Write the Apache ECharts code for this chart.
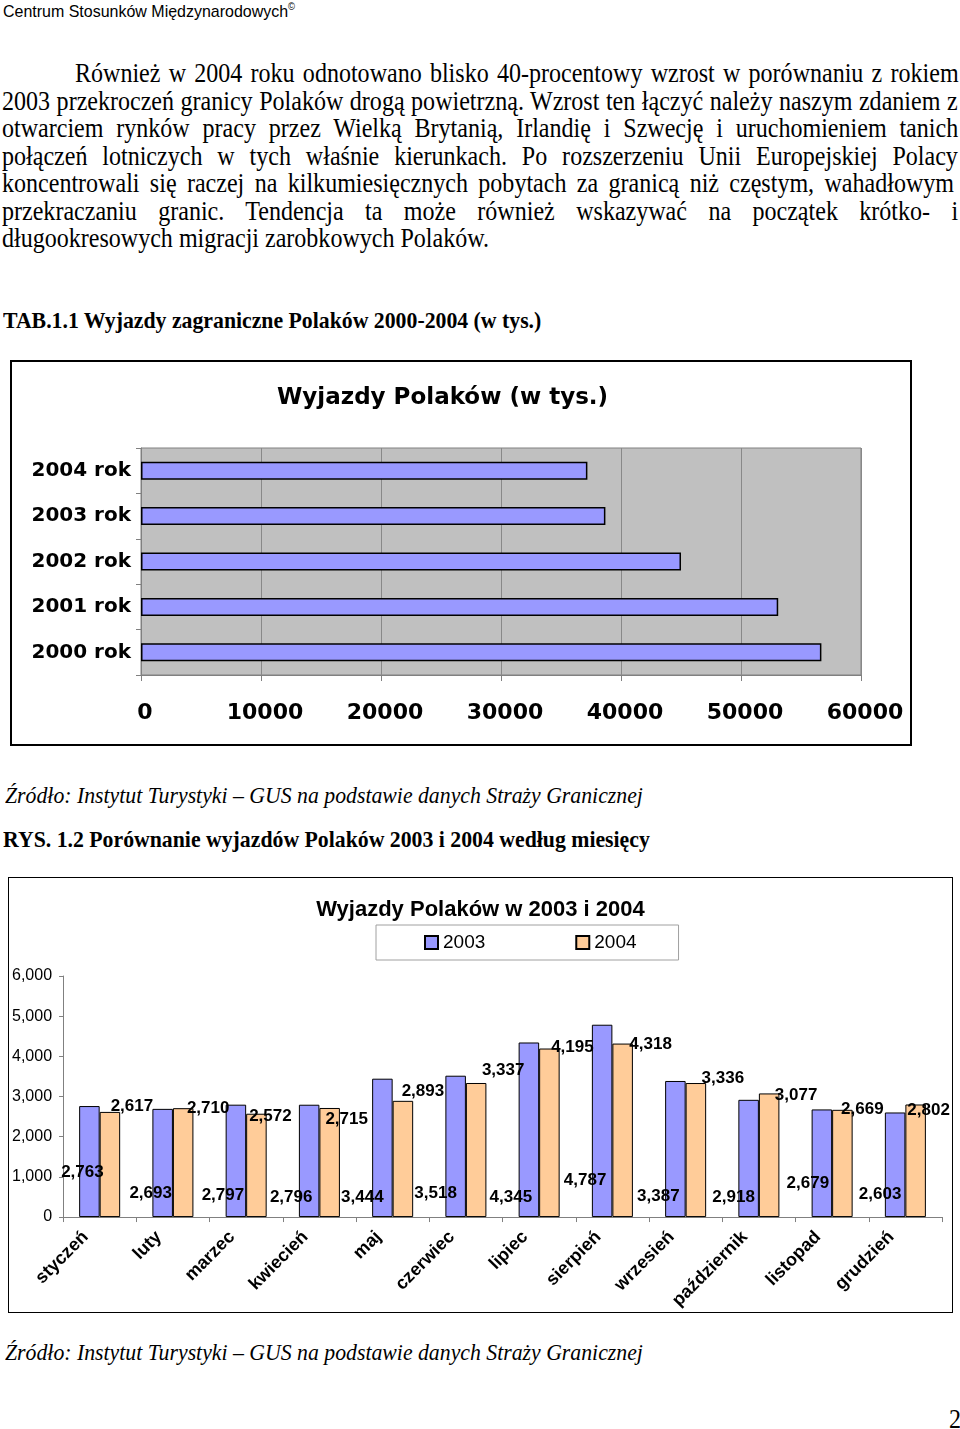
<!DOCTYPE html>
<html>
<head>
<meta charset="utf-8">
<script src="https://cdn.jsdelivr.net/npm/echarts@6/dist/echarts.min.js"></script>
<style>
  html, body { margin: 0; padding: 0; background: #fff; }
  #page { position: relative; width: 960px; height: 1429px; overflow: hidden; color: #000; }
  .abs { position: absolute; white-space: nowrap; }
  .hdr { font-family: 'Liberation Sans', Arial, sans-serif; font-size: 17px; left: 3px; top: 1px;
         transform: scaleX(0.94); transform-origin: 0 0; }
  .hdr sup { font-size: 10px; }
  /* the scanned page is a bit narrow: Times looks condensed */
  .serif { font-family: 'Liberation Serif', 'Times New Roman', serif; font-size: 26.5px; line-height: 27.5px;
           transform: scaleX(0.907); transform-origin: 0 0; }
  .small { font-size: 24px; line-height: 28px; }
  .jl { position: absolute; left: 2px; width: 1054px; }
  .bold { font-weight: bold; }
  .ital { font-style: italic; }
  .box1 { position: absolute; left: 10px; top: 360px; width: 902px; height: 386px; border: 2px solid #000; box-sizing: border-box; }
  .box2 { position: absolute; left: 8px; top: 877px; width: 945px; height: 436px; border: 1px solid #000; box-sizing: border-box; }
  .box1 > div, .box2 > div { width: 100%; height: 100%; }
</style>
</head>
<body>
<div id="page">
  <div class="abs hdr">Centrum Stosunków Międzynarodowych<sup>©</sup></div>

  <div class="serif jl just" style="top:60px; left:75px; width:973.5px;">Również w 2004 roku odnotowano blisko 40-procentowy wzrost w porównaniu z rokiem</div>
  <div class="serif jl just" style="top:87.5px;">2003 przekroczeń granicy Polaków drogą powietrzną. Wzrost ten łączyć należy naszym zdaniem z</div>
  <div class="serif jl just" style="top:115px;">otwarciem rynków pracy przez Wielką Brytanią, Irlandię i Szwecję i uruchomieniem tanich</div>
  <div class="serif jl just" style="top:142.5px;">połączeń lotniczych w tych właśnie kierunkach. Po rozszerzeniu Unii Europejskiej Polacy</div>
  <div class="serif jl just" style="top:170px;">koncentrowali się raczej na kilkumiesięcznych pobytach za granicą  niż częstym, wahadłowym</div>
  <div class="serif jl just" style="top:197.5px;">przekraczaniu granic. Tendencja ta może również wskazywać na początek krótko- i</div>
  <div class="serif jl" style="top:225px; white-space:nowrap;">długookresowych migracji zarobkowych Polaków.</div>

  <div class="abs serif small bold" style="left:3px; top:306px;">TAB.1.1 Wyjazdy zagraniczne Polaków 2000-2004 (w tys.)</div>

  <div class="box1"><div id="chart1"></div></div>

  <div class="abs serif small ital" style="left:5px; top:781px;">Źródło: Instytut Turystyki – GUS na podstawie danych Straży Granicznej</div>
  <div class="abs serif small bold" style="left:3px; top:825px;">RYS. 1.2 Porównanie wyjazdów Polaków 2003 i 2004 według miesięcy</div>

  <div class="box2"><div id="chart2"></div></div>

  <div class="abs serif small ital" style="left:5px; top:1338px;">Źródło: Instytut Turystyki – GUS na podstawie danych Straży Granicznej</div>
  <div class="abs serif" style="left:949px; top:1406px;">2</div>
</div>

<script>
// TAB 1.1 - departures per year (thousands)
const years = ['2000 rok', '2001 rok', '2002 rok', '2003 rok', '2004 rok'];
const departures = [56700, 53100, 45000, 38700, 37200];

// RYS 1.2 - monthly departures (thousands)
const months = ['styczeń', 'luty', 'marzec', 'kwiecień', 'maj', 'czerwiec',
  'lipiec', 'sierpień', 'wrzesień', 'październik', 'listopad', 'grudzień'];
const dep2003 = [2763, 2693, 2797, 2796, 3444, 3518, 4345, 4787, 3387, 2918, 2679, 2603];
const dep2004 = [2617, 2710, 2572, 2715, 2893, 3337, 4195, 4318, 3336, 3077, 2669, 2802];

// justify text lines by hand (word-spacing) so the breaks match the page
document.querySelectorAll('.just').forEach(function (el) {
  const txt = el.textContent;
  el.textContent = '';
  const span = document.createElement('span');
  span.style.whiteSpace = 'nowrap';
  span.textContent = txt;
  el.appendChild(span);
  const gaps = (txt.match(/ /g) || []).length;
  const extra = (el.clientWidth - span.offsetWidth) / gaps;
  span.style.wordSpacing = extra + 'px';
});

const fmt = v => v.toLocaleString('en-US');

// ---------- chart 1 ----------
const chart1 = echarts.init(document.getElementById('chart1'));
chart1.setOption({
  animation: false,
  title: {
    text: 'Wyjazdy Polaków (w tys.)',
    left: 260,
    top: 20,
    textStyle: { fontFamily: 'DejaVu Sans', fontWeight: 'bold', fontSize: 23, color: '#000' }
  },
  grid: {
    left: 129, right: 49, top: 86, bottom: 69,
    show: true, backgroundColor: '#c0c0c0', borderColor: '#808080', borderWidth: 1
  },
  xAxis: {
    type: 'value',
    min: 0, max: 60000, interval: 10000,
    axisLine: { show: true, lineStyle: { color: '#808080' } },
    axisTick: { show: true, length: 6, lineStyle: { color: '#808080' } },
    splitLine: { show: true, lineStyle: { color: '#888888', width: 1 } },
    axisLabel: {
      margin: 27, formatter: v => String(v), padding: [0, 0, 0, 8],
      fontFamily: 'DejaVu Sans', fontWeight: 'bold', fontSize: 22, color: '#000'
    }
  },
  yAxis: {
    type: 'category',
    data: years,
    axisLine: { show: true, lineStyle: { color: '#808080' } },
    axisTick: { show: true, length: 5, lineStyle: { color: '#808080' } },
    axisLabel: { margin: 10, fontFamily: 'DejaVu Sans', fontWeight: 'bold', fontSize: 20, color: '#000' }
  },
  series: [{
    type: 'bar',
    data: departures,
    barWidth: 18,
    itemStyle: { color: '#9999ff', borderColor: '#000', borderWidth: 1.5 }
  }]
});

// ---------- chart 2 ----------
// label offsets [dx, dy] as they sit in the original (Excel placed them oddly)
const nudge2003 = [[-7, -31], [-12, -10], [-13, -8], [-18, -6], [-20, -6], [-20, -10],
  [-18, -6], [-17, -23], [-17, -7], [-15, -6], [-14, -20], [-15, -9]];
const nudge2004 = [[22, 3], [25, 9], [14, 11], [17, 20], [20, -1], [27, -4],
  [23, 7], [28, 9], [27, 4], [27, 10], [20, 8], [13, 14]];

const labelFont = { fontFamily: 'Liberation Sans', fontWeight: 'bold', fontSize: 17, color: '#000' };

const chart2 = echarts.init(document.getElementById('chart2'));
chart2.setOption({
  animation: false,
  title: {
    text: 'Wyjazdy Polaków w 2003 i 2004',
    left: 'center',
    top: 16,
    textStyle: { fontFamily: 'Liberation Sans', fontWeight: 'bold', fontSize: 22, color: '#000' }
  },
  legend: {
    left: 367, top: 47,
    padding: [8, 42, 8, 48],
    itemGap: 90,
    itemWidth: 13, itemHeight: 13,
    icon: 'rect',
    borderColor: '#a0a0a0', borderWidth: 1,
    textStyle: { fontFamily: 'Liberation Sans', fontSize: 19, color: '#000' }
  },
  grid: { left: 52, right: 10, top: 98, bottom: 94 },
  xAxis: {
    type: 'category',
    data: months,
    axisLine: { lineStyle: { color: '#808080' } },
    axisTick: { show: true, length: 5, lineStyle: { color: '#808080' } },
    axisLabel: {
      interval: 0, rotate: 45, margin: 3, padding: [0, 20, 0, 0],
      fontFamily: 'Liberation Sans', fontWeight: 'bold', fontSize: 18, color: '#000'
    }
  },
  yAxis: {
    type: 'value',
    min: 0, max: 6000, interval: 1000,
    axisLine: { show: true, lineStyle: { color: '#808080' } },
    axisTick: { show: true, length: 4, lineStyle: { color: '#808080' } },
    splitLine: { show: false },
    axisLabel: { margin: 11, formatter: fmt, fontFamily: 'Liberation Sans', fontSize: 16, color: '#000' }
  },
  series: [
    {
      name: '2003',
      type: 'bar',
      barGap: 0,
      barCategoryGap: '44%',
      itemStyle: { color: '#9999ff', borderColor: '#000', borderWidth: 1 },
      data: dep2003.map((v, i) => ({ value: v, label: { offset: nudge2003[i] } })),
      label: Object.assign({
        show: true, position: 'insideBottom', distance: 5,
        formatter: p => fmt(p.value)
      }, labelFont)
    },
    {
      name: '2004',
      type: 'bar',
      itemStyle: { color: '#ffcc99', borderColor: '#000', borderWidth: 1 },
      data: dep2004.map((v, i) => ({ value: v, label: { offset: nudge2004[i] } })),
      label: Object.assign({
        show: true, position: 'top', distance: 0,
        formatter: p => fmt(p.value)
      }, labelFont)
    }
  ]
});
</script>
</body>
</html>
